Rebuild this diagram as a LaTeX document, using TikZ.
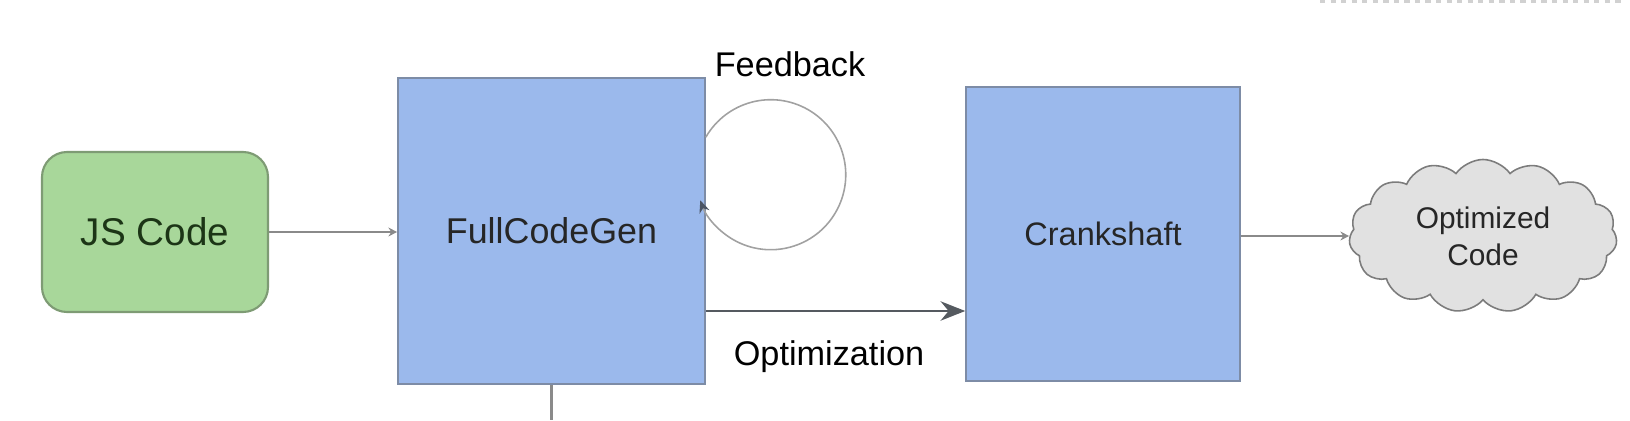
\documentclass[tikz,border=0pt]{standalone}
\usepackage{fontspec}
\setmainfont{Liberation Sans}
\usepackage{xcolor}
\usepackage{tikz}
\usetikzlibrary{arrows.meta,positioning,calc,shapes.symbols}

\definecolor{jsgreen}{HTML}{A8D79A}
\definecolor{jsedge}{HTML}{7E9B74}
\definecolor{jstext}{HTML}{1C3516}
\definecolor{cgblue}{HTML}{9BB9EC}
\definecolor{cgedge}{HTML}{7D8CA6}
\definecolor{cloudgray}{HTML}{E1E1E1}
\definecolor{linegray}{HTML}{8A8A8A}
\definecolor{darkline}{HTML}{555A60}

\tikzset{
  srcbox/.style={draw=jsedge,fill=jsgreen,line width=1.2pt,rounded corners=0.5cm,text=jstext},
  stagebox/.style={draw=cgedge,fill=cgblue,line width=0.9pt,text=black!85},
  outcloud/.style={cloud,cloud puffs=15,cloud puff arc=110,aspect=1.75,draw=linegray!90!black,
    fill=cloudgray,line width=0.9pt,align=center,text=black!85},
  thinflow/.style={draw=linegray,line width=0.9pt,-{Stealth[length=5pt,width=5pt]}},
  thickflow/.style={draw=darkline,line width=1.6pt,-{Stealth[length=14pt,width=11pt]}}
}

\begin{document}
\begin{tikzpicture}[>=Stealth,font=\fontsize{19.5}{23}\selectfont]
  \useasboundingbox (0,0) rectangle (32.6,8.4);
  \node[srcbox,minimum width=4.52cm,minimum height=3.2cm,font=\fontsize{22}{26}\selectfont] (js) at (3.10,3.76) {JS Code};
  \node[stagebox,minimum width=6.14cm,minimum height=6.12cm,font=\fontsize{20.4}{24}\selectfont] (fcg) at (11.03,3.78) {FullCodeGen};
  \node[stagebox,minimum width=5.48cm,minimum height=5.88cm,font=\fontsize{18.5}{22}\selectfont] (crank) at (22.06,3.72) {Crankshaft};
  \node[outcloud,minimum width=5.36cm,minimum height=3.06cm,font=\fontsize{17}{21}\selectfont] (opt) at (29.66,3.68) {Optimized\\Code};
  \node (fblbl) at (15.8,7.12) {Feedback};
  \node (optlbl) at (16.58,1.26) {Optimization};
  \coordinate (fbstart) at ($(fcg.north east)+(0,-1.2)$);
  \coordinate (optstart) at ($(fcg.east)+(0,-1.6)$);
  \coordinate (bottomend) at (fcg.south |- 0,0);

  \draw[thinflow] (js.east) -- (js.east -| fcg.west);
  \draw[thickflow] (optstart) -- (optstart -| crank.west);
  \draw[thinflow] (crank.east |- opt.west) -- (opt.west);
  % feedback loop
  \draw[draw=linegray!80,line width=0.9pt,-{Stealth[length=7pt,width=6pt,color=cgedge!60!black]}]
    (fbstart) arc[start angle=150,end angle=-160,radius=1.5];
  \draw[draw=linegray,line width=1.2pt] (fcg.south) -- (bottomend);
  \draw[dashed,line width=1.5pt,draw=black!18] (26.4,8.37) -- (32.5,8.37);
\end{tikzpicture}
\end{document}
